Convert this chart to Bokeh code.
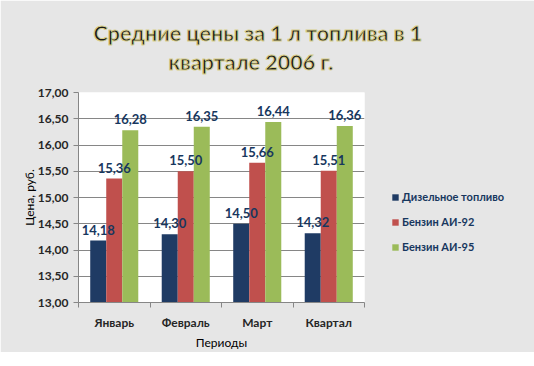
from bokeh.plotting import figure
from bokeh.models import (ColumnDataSource, FixedTicker, Legend, LegendItem,
                          LabelSet, Range1d)
from bokeh.core.properties import value
from bokeh.transform import dodge
from bokeh.embed import file_html
from bokeh.resources import INLINE

# ---- data ----
categories = ["Январь", "Февраль", "Март", "Квартал"]
series_names = ["Дизельное топливо", "Бензин АИ-92", "Бензин АИ-95"]
diesel = [14.18, 14.30, 14.50, 14.32]
ai92 = [15.36, 15.50, 15.66, 15.51]
ai95 = [16.28, 16.35, 16.44, 16.36]
y_ticks = [13.0, 13.5, 14.0, 14.5, 15.0, 15.5, 16.0, 16.5, 17.0]
title_lines = ["Средние цены за 1 л топлива в 1", "квартале 2006 г."]
y_title = "Цена, руб."
x_title = "Периоды"

colors = ["#1F3B64", "#C0504D", "#9BBB59"]
label_color = "#17375E"
FONT = "Lato"


def fmt(v):
    return f"{v:.2f}".replace(".", ",")


xs = [i + 0.5 for i in range(len(categories))]
src = ColumnDataSource(dict(
    x=xs, diesel=diesel, ai92=ai92, ai95=ai95,
    t_diesel=[fmt(v) for v in diesel],
    t_ai92=[fmt(v) for v in ai92],
    t_ai95=[fmt(v) for v in ai95],
))

p = figure(width=518, height=352, frame_width=286, frame_height=210,
           output_backend="svg", toolbar_location=None,
           x_range=Range1d(0, len(categories)), y_range=Range1d(13, 17))
p.min_border_left = 78
p.min_border_right = 154
p.min_border_top = 92
p.min_border_bottom = 50
p.background_fill_color = "white"
p.border_fill_color = "#e6e6e6"
p.outline_line_color = None

bw = 0.224
offsets = [-bw, 0.0, bw]
fields = ["diesel", "ai92", "ai95"]
renderers = []
for f, off, c in zip(fields, offsets, colors):
    r = p.vbar(x=dodge("x", off), top=f, bottom=13, width=bw, source=src,
               fill_color=c, line_color=None)
    renderers.append(r)
    ls = LabelSet(x=dodge("x", off), y=f, text="t_" + f, source=src,
                  text_align="center", text_baseline="bottom", y_offset=6,
                  text_font=value(FONT), text_font_style="bold", text_font_size="13px",
                  text_color=label_color)
    p.add_layout(ls)

# axes
p.xaxis.ticker = FixedTicker(ticks=xs, minor_ticks=list(range(len(categories) + 1)))
p.xaxis.major_label_overrides = {x: c for x, c in zip(xs, categories)}
p.xaxis.major_tick_out = 0
p.xaxis.major_tick_in = 0
p.xaxis.minor_tick_out = 5
p.xaxis.minor_tick_in = 0
p.xaxis.minor_tick_line_color = "#868686"
p.xaxis.axis_line_color = "#868686"
p.xaxis.major_label_standoff = 7
p.xaxis.major_label_text_font = FONT
p.xaxis.major_label_text_font_style = "bold"
p.xaxis.major_label_text_font_size = "12px"
p.xaxis.major_label_text_color = "#262626"
p.xaxis.axis_label = x_title
p.xaxis.axis_label_text_font = FONT
p.xaxis.axis_label_text_font_style = "normal"
p.xaxis.axis_label_text_font_size = "12px"
p.xaxis.axis_label_text_color = "#000000"
p.xaxis.axis_label_standoff = 2

p.yaxis.ticker = FixedTicker(ticks=y_ticks, minor_ticks=[])
p.yaxis.major_label_overrides = {v: fmt(v) for v in y_ticks}
p.yaxis.major_tick_out = 5
p.yaxis.major_tick_in = 0
p.yaxis.major_tick_line_color = "#868686"
p.yaxis.axis_line_color = "#868686"
p.yaxis.major_label_standoff = 5
p.yaxis.major_label_text_font = FONT
p.yaxis.major_label_text_font_style = "bold"
p.yaxis.major_label_text_font_size = "12px"
p.yaxis.major_label_text_color = "#262626"
p.yaxis.axis_label = y_title
p.yaxis.axis_label_text_font = FONT
p.yaxis.axis_label_text_font_style = "normal"
p.yaxis.axis_label_text_font_size = "12px"
p.yaxis.axis_label_text_color = "#000000"
p.yaxis.axis_label_standoff = -2

p.xgrid.grid_line_color = None
p.ygrid.grid_line_color = "#868686"

# title: one two-line title; the second line is centred under the first with spaces
pad = "\u2003" * 4 + "\u00a0" * 2
p.title.text = title_lines[0] + "\n" + pad + title_lines[1]
p.title.align = "left"
p.title.offset = 15
p.title.text_font = FONT
p.title.text_font_style = "bold"
p.title.text_font_size = "21.5px"
p.title.text_line_height = 1.15
p.title.text_color = "#1a1a1a"
p.title.text_outline_color = "#d8cf8a"
p.title.standoff = 34

legend = Legend(items=[LegendItem(label=n, renderers=[r]) for n, r in zip(series_names, renderers)],
                location=(27, 49))
legend.background_fill_alpha = 0
legend.border_line_color = None
legend.padding = 0
legend.margin = 0
legend.glyph_width = 8
legend.glyph_height = 8
legend.label_height = 10
legend.spacing = 12
legend.label_standoff = 3
legend.label_text_font = FONT
legend.label_text_font_style = "bold"
legend.label_text_font_size = "11px"
legend.label_text_color = label_color
p.add_layout(legend, "right")

open("out.html", "w").write(file_html(p, INLINE))
